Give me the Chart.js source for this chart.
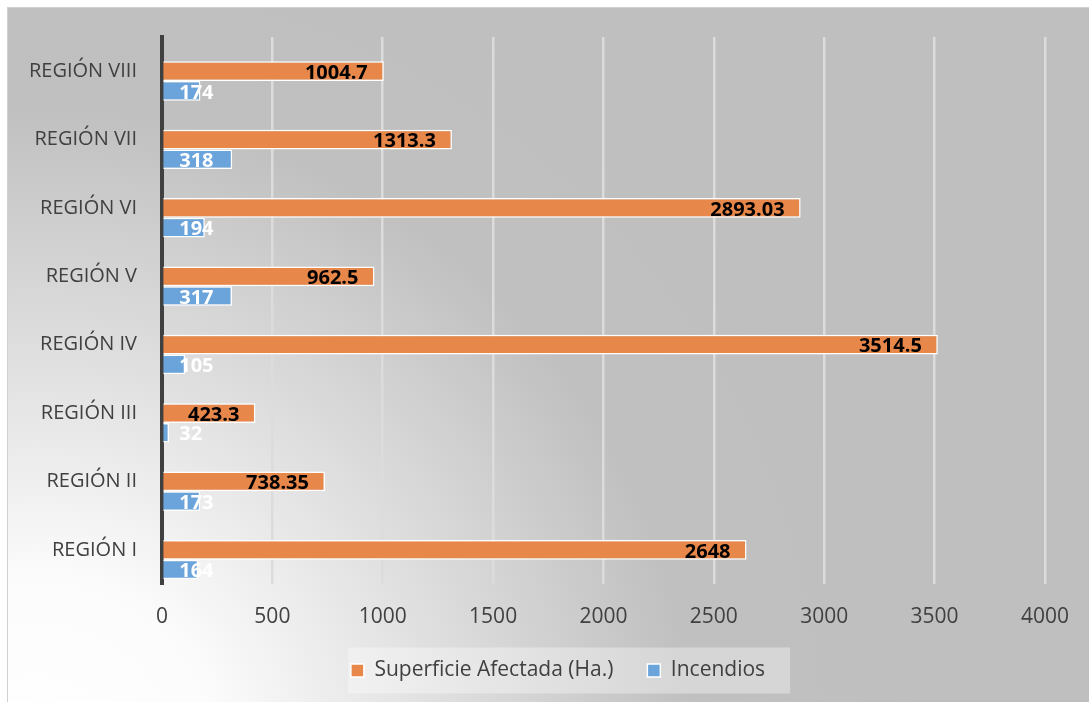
<!DOCTYPE html>
<html>
<head>
<meta charset="utf-8">
<script src="https://cdn.jsdelivr.net/npm/chart.js@4/dist/chart.umd.min.js"></script>
<style>
  body { margin: 0; background: #ffffff; }
  #chart { display: block; }
</style>
</head>
<body>
<canvas id="chart" width="1089" height="702"></canvas>
<script>
const regions = ['REGIÓN VIII', 'REGIÓN VII', 'REGIÓN VI', 'REGIÓN V', 'REGIÓN IV', 'REGIÓN III', 'REGIÓN II', 'REGIÓN I'];
const superficie = [1004.7, 1313.3, 2893.03, 962.5, 3514.5, 423.3, 738.35, 2648];
const incendios = [174, 318, 194, 317, 105, 32, 173, 164];
const xTicks = [0, 500, 1000, 1500, 2000, 2500, 3000, 3500, 4000];

const ORANGE = '#E8874A';
const BLUE = '#6BA4DB';
const FONT = "'Open Sans', sans-serif";

// gray panel with a soft light corner at the bottom left
const backgroundPlugin = {
    id: 'panel',
    afterLayout(chart) {
        // legend sits a little right of the canvas centre
        const lg = chart.legend;
        lg.left += 33;
        lg.right += 33;
        (lg.legendHitBoxes || []).forEach(b => { b.left += 33; });
    },
    beforeDraw(chart) {
        const c = chart.ctx;
        const w = chart.width, h = chart.height;
        c.save();
        c.fillStyle = '#ffffff';
        c.fillRect(0, 0, w, h);
        const g = c.createRadialGradient(40, 760, 0, 40, 760, 880);
        g.addColorStop(0, '#ffffff');
        g.addColorStop(0.2, '#fcfcfc');
        g.addColorStop(0.74, '#c0c0c0');
        g.addColorStop(1, '#bfbfbf');
        c.fillStyle = g;
        c.fillRect(7, 7, w - 7, h - 7);
        c.strokeStyle = '#d0d0d0';
        c.lineWidth = 1;
        c.strokeRect(7.5, 7.5, w, h);

        // light strip behind the legend
        const lg = chart.legend;
        if (lg && lg.legendHitBoxes && lg.legendHitBoxes.length) {
            const boxes = lg.legendHitBoxes;
            const left = boxes[0].left - 3;
            const right = boxes[boxes.length - 1].left + boxes[boxes.length - 1].width + 25;
            const cy = boxes[0].top + boxes[0].height / 2;
            c.fillStyle = 'rgba(255,255,255,0.35)';
            c.fillRect(left, cy - 23, right - left, 46);
        }
        c.restore();
    }
};

// value labels: black at the end of the orange bars, white at the base of the blue ones
const valueLabels = {
    id: 'valueLabels',
    afterDatasetsDraw(chart) {
        const c = chart.ctx;
        c.save();
        c.font = 'bold 20px ' + FONT;
        c.textBaseline = 'middle';
        chart.data.datasets.forEach((ds, i) => {
            if (!ds.label) return;
            const meta = chart.getDatasetMeta(i);
            meta.data.forEach((bar, j) => {
                const v = ds.data[j];
                if (v == null) return;
                if (i === 1) {
                    c.fillStyle = '#000000';
                    c.textAlign = 'right';
                    c.fillText(String(v), bar.x - 16, bar.y + 2);
                } else {
                    c.fillStyle = '#ffffff';
                    c.textAlign = 'left';
                    c.fillText(String(v), bar.base + 16, bar.y + 2);
                }
            });
        });
        c.restore();
    }
};

const ctx = document.getElementById('chart').getContext('2d');
const chart = new Chart(ctx, {
    type: 'bar',
    data: {
        labels: regions,
        datasets: [
            {
                // empty slot so the pair sits below the category centre
                label: '',
                data: regions.map(() => null),
                backgroundColor: 'rgba(0,0,0,0)'
            },
            {
                label: 'Superficie Afectada (Ha.)',
                data: superficie,
                backgroundColor: ORANGE,
                borderColor: '#ffffff',
                borderWidth: 1.5
            },
            {
                label: 'Incendios',
                data: incendios,
                backgroundColor: BLUE,
                borderColor: '#ffffff',
                borderWidth: 1.5
            }
        ]
    },
    options: {
        indexAxis: 'y',
        responsive: false,
        animation: false,
        categoryPercentage: 0.864,
        barPercentage: 1,
        layout: {
            padding: { top: 37, right: 39, bottom: 11, left: 0 }
        },
        scales: {
            x: {
                min: 0,
                max: 4000,
                afterBuildTicks(scale) {
                    scale.ticks = xTicks.map(v => ({ value: v }));
                },
                afterFit(scale) {
                    scale.height = 42;
                },
                grid: { color: '#dcdcdc', lineWidth: 2.5, drawTicks: false },
                border: { display: false },
                ticks: {
                    color: '#404040',
                    font: { family: FONT, size: 21 },
                    padding: 20,
                    callback: v => String(v)
                }
            },
            y: {
                afterFit(scale) {
                    scale.width = 162;
                },
                grid: { display: false, drawTicks: false },
                border: { color: '#404040', width: 4 },
                ticks: { color: '#404040', font: { family: FONT, size: 20 }, padding: 25 }
            }
        },
        plugins: {
            tooltip: { enabled: false },
            legend: {
                position: 'bottom',
                labels: {
                    filter: item => item.text !== '',
                    color: '#404040',
                    font: { family: FONT, size: 21 },
                    boxWidth: 13,
                    boxHeight: 13,
                    padding: 34
                }
            }
        }
    },
    plugins: [backgroundPlugin, valueLabels]
});
</script>
</body>
</html>
